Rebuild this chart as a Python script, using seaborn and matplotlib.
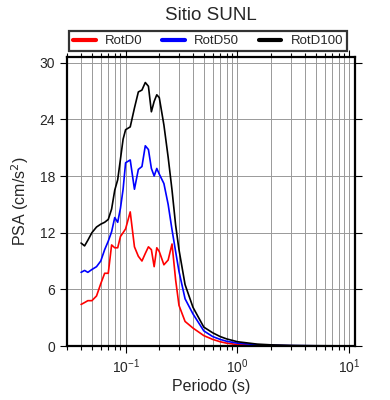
import numpy as np
import pandas as pd
import matplotlib
matplotlib.use("Agg")
import matplotlib.pyplot as plt
import seaborn as sns
from matplotlib.ticker import LogLocator, FixedLocator

sns.set_style("ticks")
plt.rcParams['font.family'] = ['Liberation Sans', 'DejaVu Sans']

# Periods (s) and spectral accelerations
periodo = [0.04, 0.043, 0.046, 0.05, 0.055, 0.06, 0.065, 0.07, 0.075, 0.08,
           0.085, 0.09, 0.095, 0.1, 0.11, 0.12, 0.13, 0.14, 0.15, 0.16,
           0.17, 0.18, 0.19, 0.2, 0.22, 0.24, 0.26, 0.28, 0.3, 0.34,
           0.4, 0.5, 0.6, 0.7, 0.8, 1.0, 1.5, 2, 3, 4, 5, 7, 10]
rotd0 = [4.4, 4.6, 4.8, 4.8, 5.3, 6.6, 7.7, 7.7, 10.7, 10.4,
         10.4, 11.6, 12.0, 12.4, 14.2, 10.5, 9.5, 9.0, 9.8, 10.5,
         10.2, 8.4, 10.4, 10.0, 8.6, 9.1, 10.8, 7.0, 4.3, 2.6,
         1.9, 1.1, 0.7, 0.45, 0.3, 0.15, 0.07, 0.04, 0.02, 0.015, 0.01, 0.008, 0.005]
rotd50 = [7.8, 8.0, 7.8, 8.1, 8.4, 9.0, 10.2, 11.1, 12.1, 13.6,
          13.1, 14.6, 16.6, 19.4, 19.7, 16.6, 18.7, 19.0, 21.2, 20.8,
          18.8, 18.0, 18.8, 18.2, 17.2, 15.0, 12.3, 10.0, 7.9, 5.0,
          3.4, 1.6, 1.0, 0.7, 0.5, 0.3, 0.13, 0.08, 0.04, 0.03, 0.02, 0.015, 0.01]
rotd100 = [10.9, 10.6, 11.2, 12.0, 12.6, 12.9, 13.1, 13.4, 14.5, 16.5,
           17.6, 19.8, 21.9, 22.9, 23.2, 25.2, 26.9, 27.1, 27.9, 27.5,
           24.8, 25.9, 26.6, 26.3, 23.4, 20.0, 16.5, 12.8, 10.2, 6.5,
           4.1, 2.0, 1.4, 1.0, 0.75, 0.45, 0.2, 0.12, 0.06, 0.04, 0.03, 0.02, 0.01]
series = ["RotD0", "RotD50", "RotD100"]
colores = ["red", "blue", "black"]
yticks = [0, 6, 12, 18, 24, 30]

df = pd.concat([
    pd.DataFrame({"periodo": periodo, "psa": v, "serie": s})
    for s, v in zip(series, [rotd0, rotd50, rotd100])
])

fig = plt.figure(figsize=(3.9, 4.0), dpi=100)
ax = fig.add_axes([0.172, 0.135, 0.738, 0.7225])
sns.lineplot(data=df, x="periodo", y="psa", hue="serie", hue_order=series,
             palette=colores, linewidth=1.2, ax=ax, legend=False)

ax.set_xscale("log")
ax.set_xlim(0.03, 11.2)
ax.set_ylim(0, 30.6)
ax.yaxis.set_major_locator(FixedLocator(yticks))
ax.xaxis.set_major_locator(LogLocator(base=10, numticks=10))
ax.xaxis.set_minor_locator(LogLocator(base=10, subs=np.arange(2, 10), numticks=20))
ax.grid(True, which="both", axis="x", color="#999999", linewidth=0.7)
ax.grid(True, which="major", axis="y", color="#999999", linewidth=0.7)
ax.set_axisbelow(True)
ax.tick_params(which="both", direction="out", top=True, right=True,
               labeltop=False, labelright=False, labelsize=10, color="black")
ax.tick_params(which="major", length=5, width=0.8)
ax.tick_params(which="minor", length=3, width=0.8)
for sp in ax.spines.values():
    sp.set_linewidth(1.6)
    sp.set_color("black")

ax.set_xlabel("Periodo (s)", fontsize=11.5, labelpad=2)
ax.set_ylabel("PSA (cm/s$^2$)", fontsize=11.5, labelpad=6)
ax.set_title("Sitio SUNL", fontsize=13.5, pad=27)

handles = [plt.Line2D([], [], color=c, linewidth=3) for c in colores]
leg = ax.legend(handles, series, loc="lower center", bbox_to_anchor=(0.49, 1.02),
                ncol=3, fontsize=9.5, frameon=True, fancybox=False,
                handlelength=1.7, columnspacing=1.5, borderpad=0.3,
                handletextpad=0.7, borderaxespad=0)
leg.get_frame().set_edgecolor("black")
leg.get_frame().set_linewidth(1.6)

plt.savefig("out.png", dpi=100)
